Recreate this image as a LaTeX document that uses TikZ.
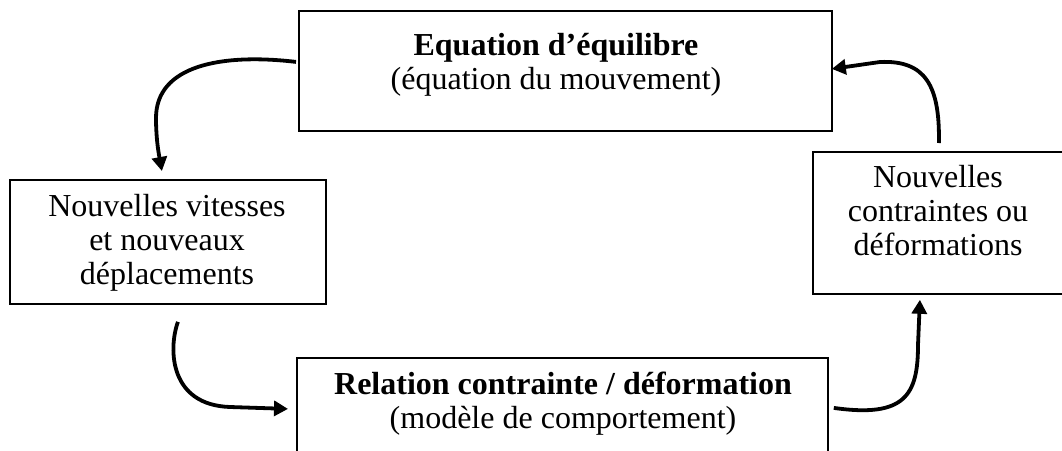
\documentclass[tikz,border=0pt]{standalone}
\usepackage{fontspec}
\setmainfont{Liberation Serif}
\usetikzlibrary{arrows.meta,calc}
\begin{document}
\begin{tikzpicture}[x=1pt,y=-1pt,
  box/.style={draw,line width=1.8pt,inner sep=0pt,anchor=north west},
  txt/.style={anchor=base,inner sep=0pt,font=\fontsize{32}{35}\selectfont},
  btxt/.style={anchor=base,inner sep=0pt,font=\fontsize{32}{35}\selectfont\bfseries},
  flow/.style={line width=3.8pt,-{Triangle[length=14pt,width=15pt]}}]
\useasboundingbox (0,0) rectangle (1062,450);
\clip (0,0) rectangle (1062,450);
\fill[white] (0,0) rectangle (1062,450);

% boxes
\node[box,minimum width=533pt,minimum height=120pt] (eq) at (298,10) {};
\node[box,minimum width=316pt,minimum height=124pt] (vit) at (9,179) {};
\node[box,minimum width=252pt,minimum height=142pt] (con) at (812,151) {};
\node[box,minimum width=531pt,minimum height=120pt] (rel) at (296,357) {};

% texts
\node[btxt] (eq1) at (556,55) {Equation d’équilibre};
\node[txt] (eq2) at (556,89) {(équation du mouvement)};
\node[txt] (vit1) at (167,216) {Nouvelles vitesses};
\node[txt] (vit2) at (167,250) {et nouveaux};
\node[txt] (vit3) at (167,284) {déplacements};
\node[txt] (con1) at (938,187) {Nouvelles};
\node[txt] (con2) at (938,221) {contraintes ou};
\node[txt] (con3) at (938,255) {déformations};
\node[btxt] (rel1) at (563,394) {Relation contrainte / déformation};
\node[txt] (rel2) at (563,428) {(modèle de comportement)};

% connector ends
\coordinate (s1) at ($(eq.west)+(-2,-9)$);
\coordinate (e1) at ($(vit.north)+(-6,-8)$);
\coordinate (s2) at ($(vit.south)+(10,17)$);
\coordinate (e2) at ($(rel.west)+(-8,-9)$);
\coordinate (s3) at ($(rel.east)+(5,-10)$);
\coordinate (e3) at ($(con.south)+(-19,5)$);
\coordinate (s4) at ($(con.north)+(0,-8)$);
\coordinate (e4) at ($(eq.east)+(-1,-2)$);

% connectors
\draw[flow] (s1) .. controls (220,53) and (156,66) .. (156,118)
  .. controls (156,140) and (159,155) .. (e1);
\draw[flow] (s2) .. controls (168,350) and (170,405) .. (230,407) -- (e2);
\draw[flow] (s3) .. controls (905,418) and (918,395) .. (918,345) -- (e3);
\draw[flow] (s4) .. controls (940,85) and (925,60) .. (880,62) -- (e4);
\end{tikzpicture}
\end{document}
